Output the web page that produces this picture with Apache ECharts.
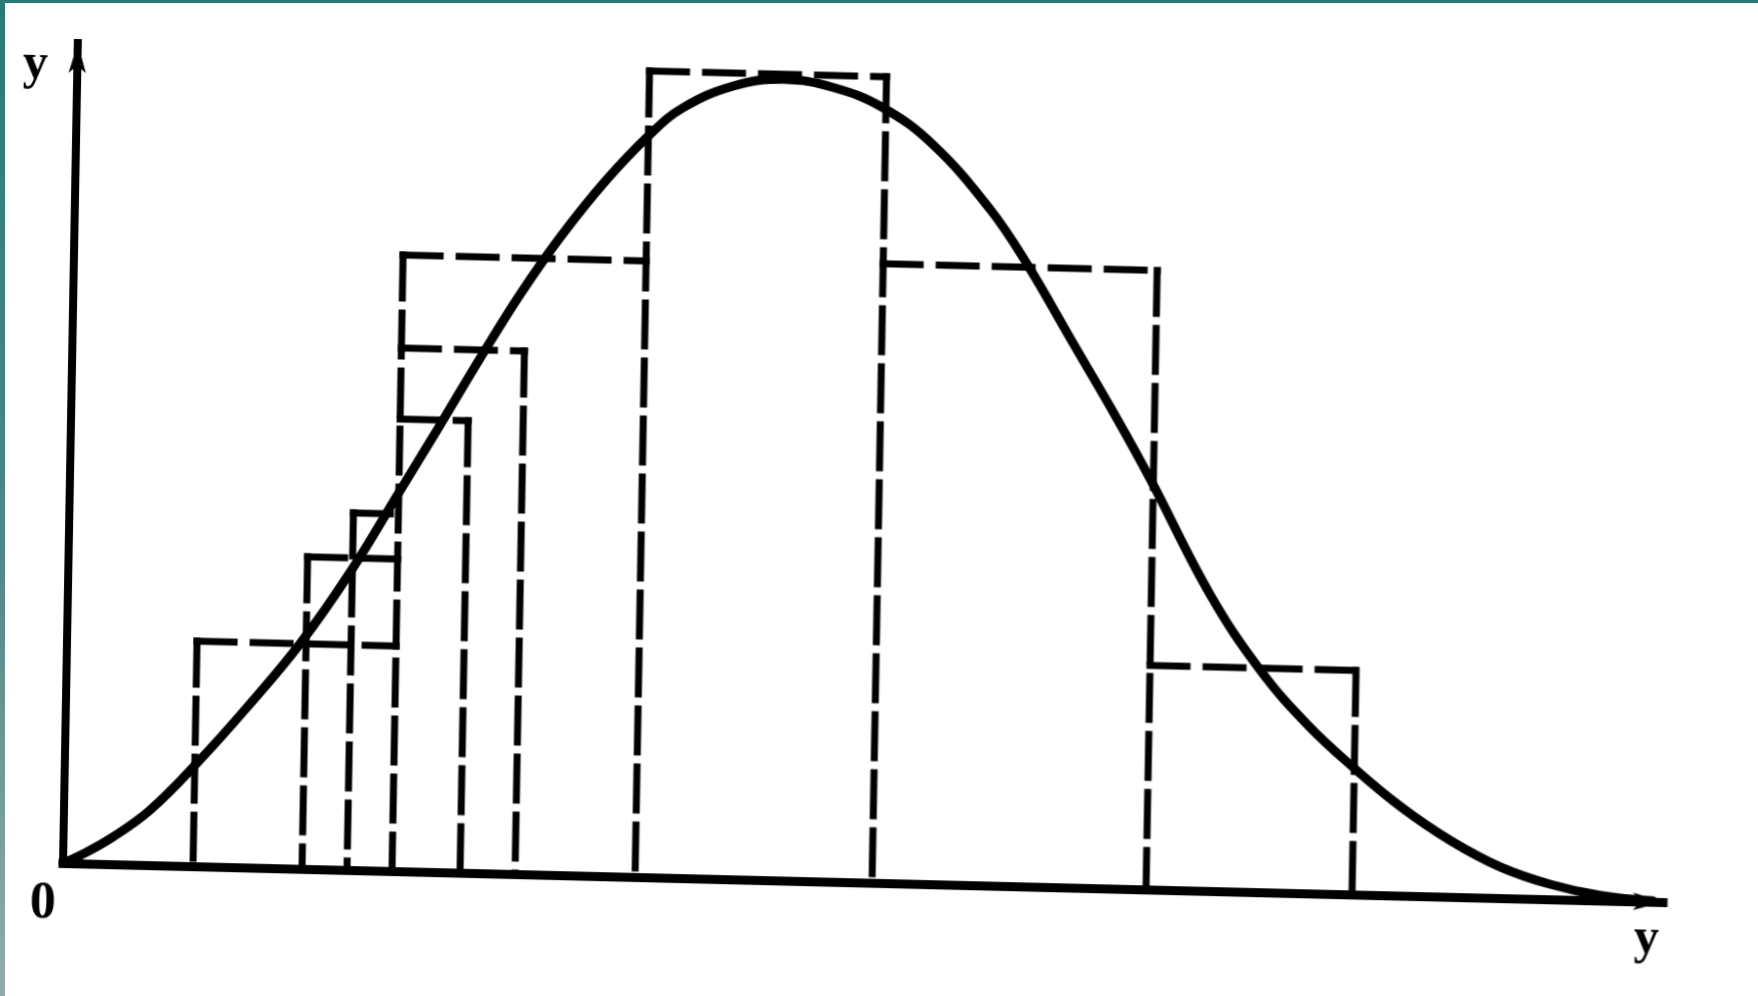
<!DOCTYPE html>
<html>
<head>
<meta charset="utf-8">
<title>Histogram and density curve</title>
<script src="https://cdn.jsdelivr.net/npm/echarts@6.0.0/dist/echarts.min.js"></script>
<style>
  html, body { margin: 0; padding: 0; background: #fff; width: 1758px; height: 996px; overflow: hidden; }
  /* the printed figure sits slightly askew on the page */
  #chart { position: absolute; left: 0; top: 0; width: 1758px; height: 996px;
           transform-origin: 63px 863px; transform: matrix(1, 0.0244, -0.018, 1, 0, 0); }
  .frame-top { position: absolute; left: 0; top: 0; width: 1758px; height: 3px; background: #2b7a78; z-index: 2; }
  .frame-left { position: absolute; left: 0; top: 0; width: 5px; height: 996px; z-index: 2;
                background: linear-gradient(#2b7a78, #4f8786 55%, #93acab); }
</style>
</head>
<body>
<div class="frame-top"></div>
<div class="frame-left"></div>
<div id="chart"></div>
<script>
// Histogram bins: left edge, right edge, bar height
const binStart  = [1.30, 2.39, 2.84, 3.29, 3.29, 3.29, 5.72, 8.09, 10.83];
const binEnd    = [3.29, 3.29, 3.29, 3.97, 4.52, 5.72, 8.09, 10.83, 12.89];
const binHeight = [2.25, 3.12, 3.57, 4.52, 5.23, 6.16, 8.06, 6.19, 2.24];

// Density curve sample points
const curveX = [0, 0.17, 0.49, 0.86, 1.32, 1.81, 2.33, 2.82, 3.30, 3.69, 4.08, 4.47, 4.86, 5.30,
                5.74, 6.06, 6.56, 7.06, 7.56, 8.06, 8.57, 9.15, 9.53, 10.01, 10.46, 10.80, 11.42,
                11.94, 12.42, 12.88, 13.36, 13.87, 14.37, 14.87, 15.38, 15.90];
const curveY = [0, 0.08, 0.27, 0.55, 1.03, 1.60, 2.25, 2.98, 3.80, 4.47, 5.15, 5.80, 6.38, 6.95,
                7.43, 7.70, 7.93, 8.01, 7.94, 7.75, 7.39, 6.76, 6.22, 5.43, 4.69, 4.10, 2.96,
                2.21, 1.68, 1.27, 0.89, 0.56, 0.31, 0.15, 0.05, 0.01];

// Axis extents, tick labels and axis names
const xRange = [0, 16];
const yRange = [0, 8.2];
const xTickLabels = { 0: '0' };
const xName = 'y';
const yName = 'y';

const INK = '#000';
const glyphFont = { fontFamily: 'Liberation Serif', fontWeight: 'bold', color: INK };

// every rectangle side is drawn once: a shared side takes the taller neighbour's height
const sideHeight = new Map();
binStart.forEach((s, i) => {
  [s, binEnd[i]].forEach(x => sideHeight.set(x, Math.max(sideHeight.get(x) || 0, binHeight[i])));
});
const sides = Array.from(sideHeight.entries());
const tops = binStart.map((s, i) => [s, binEnd[i], binHeight[i]]);
const curve = curveX.map((x, i) => [x, curveY[i]]);

const DASH_W = 7;

const chart = echarts.init(document.getElementById('chart'), null, { renderer: 'canvas' });
chart.setOption({
  backgroundColor: 'transparent',
  animation: false,
  grid: { left: 63, right: 95, top: 43, bottom: 133, outerBoundsMode: 'none' },
  xAxis: {
    type: 'value', min: xRange[0], max: xRange[1], interval: xRange[1],
    name: xName, nameLocation: 'end', nameGap: -16,
    nameTextStyle: Object.assign({ fontSize: 50, lineHeight: 76, align: 'center', verticalAlign: 'top' }, glyphFont),
    axisLine: { show: true, onZero: false, symbol: ['none', 'arrow'], symbolSize: [13, 30],
                lineStyle: { color: INK, width: 9, cap: 'square' } },
    axisTick: { show: false },
    splitLine: { show: false },
    axisLabel: Object.assign({ show: true, showMinLabel: true, showMaxLabel: true, margin: 16,
                 fontSize: 52, lineHeight: 52, align: 'center', verticalAlign: 'top',
                 padding: [0, 39, 0, 0],
                 formatter: v => xTickLabels[v] || '' }, glyphFont)
  },
  yAxis: {
    type: 'value', min: yRange[0], max: yRange[1],
    name: yName, nameLocation: 'end', nameGap: -23,
    nameTextStyle: Object.assign({ fontSize: 50, align: 'center', verticalAlign: 'middle',
                                   padding: [0, 84, 0, 0] }, glyphFont),
    axisLine: { show: true, onZero: false, symbol: ['none', 'arrow'], symbolSize: [13, 30],
                lineStyle: { color: INK, width: 8, cap: 'square' } },
    axisTick: { show: false },
    splitLine: { show: false },
    axisLabel: { show: false }
  },
  series: [
    {
      // dashed tops of the histogram bars
      type: 'custom',
      clip: false,
      data: tops,
      encode: { x: [0, 1], y: 2 },
      renderItem: (params, api) => {
        const a = api.coord([api.value(0), api.value(2)]);
        const b = api.coord([api.value(1), api.value(2)]);
        return {
          type: 'line',
          shape: { x1: a[0] - DASH_W / 2, y1: a[1], x2: b[0] + DASH_W / 2, y2: b[1] },
          style: { stroke: INK, lineWidth: DASH_W, lineDash: [44, 12], fill: null }
        };
      }
    },
    {
      // dashed sides of the histogram bars, drawn from the top corner down
      type: 'custom',
      clip: false,
      data: sides,
      encode: { x: 0, y: 1 },
      renderItem: (params, api) => {
        const top = api.coord([api.value(0), api.value(1)]);
        const base = api.coord([api.value(0), 0]);
        return {
          type: 'line',
          shape: { x1: top[0], y1: top[1] - DASH_W / 2, x2: base[0], y2: base[1] },
          style: { stroke: INK, lineWidth: DASH_W, lineDash: [50, 8], fill: null }
        };
      }
    },
    {
      // smooth density curve
      type: 'line',
      data: curve,
      smooth: 0.4,
      showSymbol: false,
      symbol: 'none',
      clip: false,
      lineStyle: { color: INK, width: 9, cap: 'round' },
      z: 3
    }
  ]
});
</script>
</body>
</html>
